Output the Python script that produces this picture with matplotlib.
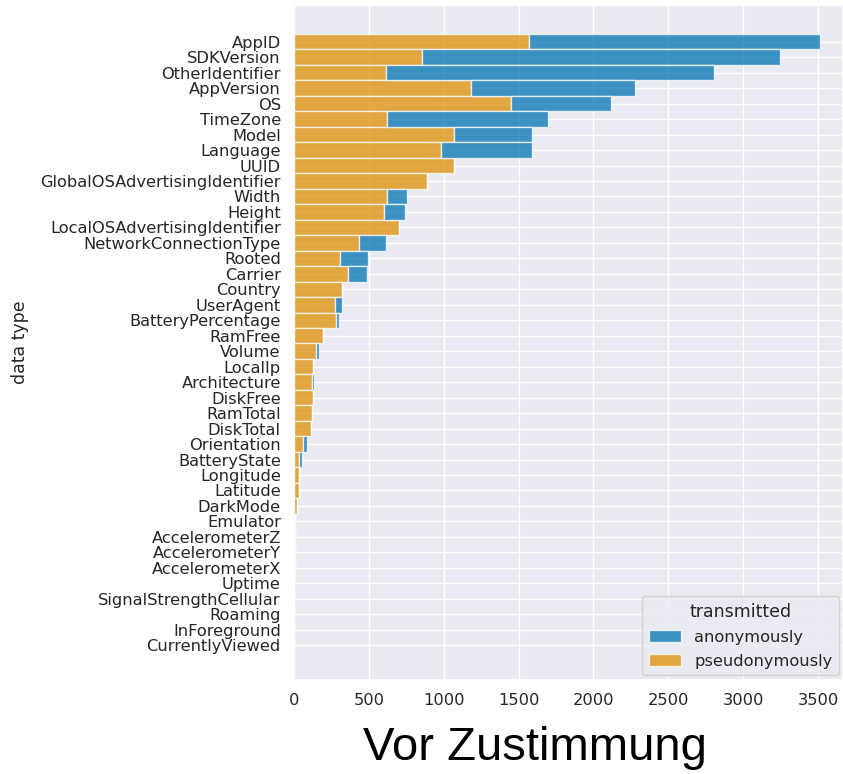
import numpy as np
import matplotlib
matplotlib.use("Agg")
import matplotlib.pyplot as plt
import seaborn as sns
from matplotlib.patches import Patch

data_types = [
    "AppID", "SDKVersion", "OtherIdentifier", "AppVersion", "OS", "TimeZone",
    "Model", "Language", "UUID", "GlobalOSAdvertisingIdentifier", "Width",
    "Height", "LocalOSAdvertisingIdentifier", "NetworkConnectionType", "Rooted",
    "Carrier", "Country", "UserAgent", "BatteryPercentage", "RamFree", "Volume",
    "LocalIp", "Architecture", "DiskFree", "RamTotal", "DiskTotal",
    "Orientation", "BatteryState", "Longitude", "Latitude", "DarkMode",
    "Emulator", "AccelerometerZ", "AccelerometerY", "AccelerometerX", "Uptime",
    "SignalStrengthCellular", "Roaming", "InForeground", "CurrentlyViewed",
]

pseudonymously = [
    1571, 858, 612, 1182, 1449, 619, 1067, 981, 1070, 885, 619, 602, 701, 432,
    307, 363, 323, 276, 281, 196, 147, 125, 120, 129, 122, 111, 62, 33, 36,
    33, 22, 6, 5, 5, 5, 0, 0, 0, 0, 0,
]
anonymously = [
    1945, 2385, 2192, 1097, 666, 1079, 523, 609, 0, 0, 136, 138, 0, 180,
    188, 122, 0, 42, 17, 0, 20, 3, 11, 0, 0, 0, 25, 18, 0,
    0, 0, 0, 0, 0, 0, 0, 0, 0, 0, 0,
]

sns.set_theme(style="darkgrid")
plt.rcParams["font.family"] = ["DejaVu Sans"]
pal = sns.color_palette("colorblind")
c_anon, c_pseudo = pal[0], pal[1]

fig = plt.figure(figsize=(8.43, 7.74), dpi=100)
ax = fig.add_axes([0.3488, 0.1214, 0.6512, 0.8721])

y = np.arange(len(data_types))
pseudo = np.array(pseudonymously)
anon = np.array(anonymously)

# stacked counts: pseudonymous first, anonymous stacked on top
ax.barh(y, pseudo, height=1.0, color=c_pseudo, alpha=0.75,
        edgecolor="white", linewidth=1.0)
ax.barh(y, anon, left=pseudo, height=1.0, color=c_anon, alpha=0.75,
        edgecolor="white", linewidth=1.0)

ax.set_yticks(y)
ax.set_yticklabels(data_types, fontsize=11.7)
ax.set_ylim(41.25, -2.37)
ax.set_xlim(0, 3667)
ax.set_xticks(np.arange(0, 4000, 500))
ax.tick_params(axis="x", labelsize=11.7)
ax.set_ylabel("data type", fontsize=12.5)
ax.yaxis.set_label_coords(-0.482, 0.5)

handles = [Patch(facecolor=c_anon, alpha=0.75, edgecolor="white"),
           Patch(facecolor=c_pseudo, alpha=0.75, edgecolor="white")]
leg = ax.legend(handles, ["anonymously", "pseudonymously"], title="transmitted",
                loc="lower right", bbox_to_anchor=(0.993, 0.007),
                borderaxespad=0, fontsize=11.7, title_fontsize=12.5,
                labelspacing=0.55)

fig.text(0.635, 0.033, "Vor Zustimmung", fontsize=34, color="black",
         family="Liberation Sans", ha="center", va="center")

fig.savefig("out.png", dpi=100)
